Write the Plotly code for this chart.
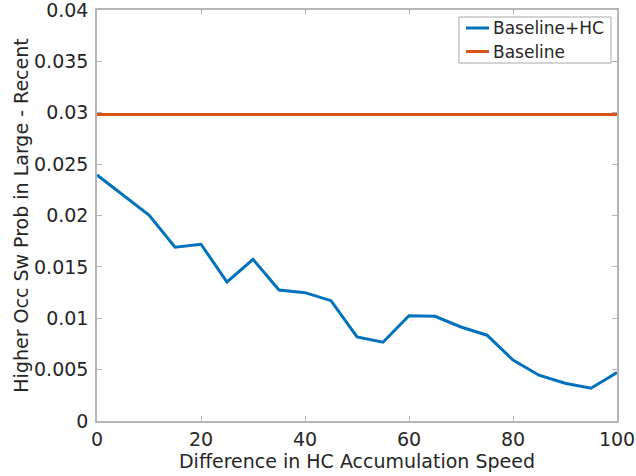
import plotly.graph_objects as go

x_vals = [0, 5, 10, 15, 20, 25, 30, 35, 40, 45, 50, 55, 60, 65, 70, 75, 80, 85, 90, 95, 100]
hc_vals = [0.02394, 0.0220, 0.02005, 0.01691, 0.0172, 0.01353, 0.01574, 0.01275, 0.01249, 0.01171,
           0.00818, 0.00767, 0.01025, 0.01019, 0.00915, 0.00835, 0.00594, 0.00446, 0.00368, 0.00319, 0.00471]
baseline_val = 0.02984
baseline_vals = [baseline_val for _ in x_vals]

series_names = ["Baseline+HC", "Baseline"]
series_colors = ["#0072BD", "#D95319"]

x_ticks = [0, 20, 40, 60, 80, 100]
y_ticks = [0, 0.005, 0.01, 0.015, 0.02, 0.025, 0.03, 0.035, 0.04]
y_tick_text = ["0", "0.005", "0.01", "0.015", "0.02", "0.025", "0.03", "0.035", "0.04"]

font_family = "DejaVu Sans"
txt_color = "#262626"
axis_color = "#b5b5b5"

W, H = 636, 476
ML, MR, MT, MB = 97, 19, 10, 55
PW, PH = W - ML - MR, H - MT - MB


def px_x(p):
    return (p - ML) / PW


def px_y(p):
    return (H - MB - p) / PH


fig = go.Figure()
for yv, nm, col in zip([hc_vals, baseline_vals], series_names, series_colors):
    fig.add_trace(go.Scatter(x=x_vals, y=yv, mode="lines", name=nm,
                             line=dict(color=col, width=3), showlegend=False))

axis_common = dict(showline=True, linecolor=axis_color, linewidth=1.5, mirror="ticks",
                   ticks="inside", ticklen=5, tickcolor=axis_color, tickwidth=1,
                   showgrid=False, zeroline=False, automargin=False,
                   ticklabeloverflow="allow",
                   tickfont=dict(family=font_family, size=19, color=txt_color))

# legend box (MATLAB style)
shapes = [dict(type="rect", xref="paper", yref="paper",
               x0=px_x(459), x1=px_x(611), y0=px_y(63), y1=px_y(17),
               line=dict(color="#a8a8a8", width=1), fillcolor="white", layer="above")]
annotations = []
for i, (nm, col) in enumerate(zip(series_names, series_colors)):
    yc = 28 + i * 23.5
    shapes.append(dict(type="line", xref="paper", yref="paper",
                       x0=px_x(466), x1=px_x(489), y0=px_y(yc), y1=px_y(yc),
                       line=dict(color=col, width=3), layer="above"))
    annotations.append(dict(xref="paper", yref="paper", x=px_x(491), y=px_y(yc),
                            xanchor="left", yanchor="middle", showarrow=False, text=nm,
                            font=dict(family=font_family, size=17, color=txt_color)))

fig.update_layout(
    width=W, height=H,
    margin=dict(l=ML, r=MR, t=MT, b=MB),
    plot_bgcolor="white", paper_bgcolor="white",
    font=dict(family=font_family, size=19, color=txt_color),
    xaxis=dict(range=[0, 100], tickvals=x_ticks, ticklabelstandoff=0,
               title=dict(text="Difference in HC Accumulation Speed", standoff=0,
                          font=dict(family=font_family, size=19, color=txt_color)),
               **axis_common),
    yaxis=dict(range=[0, 0.04], tickvals=y_ticks, ticktext=y_tick_text, ticklabelstandoff=3,
               title=dict(text="Higher Occ Sw Prob in Large - Recent", standoff=0,
                          font=dict(family=font_family, size=19, color=txt_color)),
               **axis_common),
    shapes=shapes,
    annotations=annotations,
    showlegend=False,
)

fig.write_html("out.html")
